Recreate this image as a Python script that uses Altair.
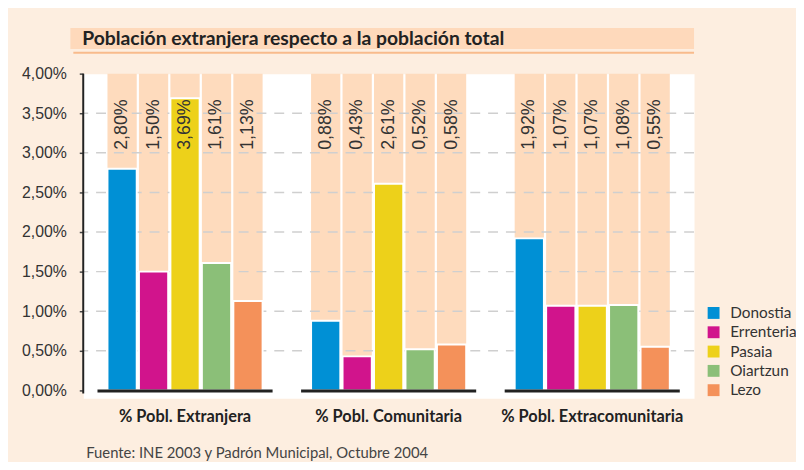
import altair as alt
import pandas as pd

groups = ["% Pobl. Extranjera", "% Pobl. Comunitaria", "% Pobl. Extracomunitaria"]
cities = ["Donostia", "Errenteria", "Pasaia", "Oiartzun", "Lezo"]
extranjera = [2.80, 1.50, 3.69, 1.61, 1.13]
comunitaria = [0.88, 0.43, 2.61, 0.52, 0.58]
extracomunitaria = [1.92, 1.07, 1.07, 1.08, 0.55]
colors = ["#0090d5", "#d1148c", "#edd11a", "#8bbf78", "#f4915a"]
y_ticks = [0.0, 0.5, 1.0, 1.5, 2.0, 2.5, 3.0, 3.5, 4.0]
grid_values = [0.5, 1.0, 1.5, 2.0, 2.5, 3.0, 3.5]
y_max = 4.0
title_text = "Población extranjera respecto a la población total"
source_text = "Fuente: INE 2003 y Padrón Municipal, Octubre 2004"

rows = []
for g, vals in zip(groups, [extranjera, comunitaria, extracomunitaria]):
    for c, v in zip(cities, vals):
        rows.append({
            "grupo": g, "ciudad": c, "valor": v,
            "etiqueta": f"{v:.2f}".replace(".", ",") + "%",
            "tope": y_max,
        })
df = pd.DataFrame(rows)

y_scale = alt.Scale(domain=[-0.1, y_max], nice=False, zero=False)
y_axis = alt.Axis(
    title=None, values=y_ticks, domain=False, grid=False,
    labelExpr="replace(format(datum.value, '.2f'), '.', ',') + '%'",
    tickSize=4, tickColor="#444", tickWidth=1.5,
    labelFont="Liberation Sans", labelFontSize=16, labelColor="#333",
    labelPadding=13,
)
x_enc = alt.X(
    "grupo:N", sort=groups, title=None,
    scale=alt.Scale(paddingInner=0, paddingOuter=0),
    axis=alt.Axis(labelAngle=0, ticks=False, domain=False, labelFont="Lato",
                  labelFontWeight="bold", labelFontSize=16.5, labelColor="#222",
                  labelPadding=10, labelLimit=0),
)
xo_enc = alt.XOffset("ciudad:N", sort=cities,
                     scale=alt.Scale(paddingInner=0.07, paddingOuter=0.77))

base = alt.Chart(df)

bg = base.mark_bar(color="#fedbbd").encode(
    x=x_enc, xOffset=xo_enc,
    y=alt.Y("tope:Q", scale=y_scale, axis=y_axis),
    y2=alt.datum(0),
)

grid = alt.Chart(pd.DataFrame({"g": grid_values})).mark_rule(
    color="#cfcfcf", strokeDash=[10, 8], strokeWidth=1.5
).encode(y=alt.Y("g:Q", scale=y_scale, axis=y_axis))

bars = base.mark_bar(stroke="white", strokeWidth=2).encode(
    x=x_enc, xOffset=xo_enc,
    y=alt.Y("valor:Q", scale=y_scale, axis=y_axis),
    y2=alt.datum(0),
    color=alt.Color(
        "ciudad:N", sort=cities,
        scale=alt.Scale(domain=cities, range=colors),
        legend=alt.Legend(
            title=None, orient="none", legendX=629, legendY=234,
            symbolType="square", symbolSize=144, symbolStrokeWidth=0,
            labelFont="Lato", labelFontSize=15.5, labelColor="#333",
            labelOffset=9, rowPadding=2.5, padding=0,
        ),
    ),
)

labels = base.mark_text(
    angle=270, align="right", baseline="middle",
    font="Liberation Sans", fontSize=18, color="#333",
).encode(x=x_enc, xOffset=xo_enc, y=alt.value(26), text="etiqueta:N")

baselines = alt.Chart(pd.DataFrame({"grupo": groups})).mark_bar(
    color="#222", width=alt.RelativeBandSize(0.86)
).encode(x=x_enc, y=alt.datum(0.0125), y2=alt.datum(-0.025))

one = pd.DataFrame({"a": [0]})
yaxis_line = alt.Chart(one).mark_rule(color="#222", strokeWidth=2).encode(
    x=alt.value(0), y=alt.datum(y_max), y2=alt.datum(-0.04)
)

title_band = alt.Chart(one).mark_rect(color="#fed9bb").encode(
    x=alt.value(-13), x2=alt.value(617), y=alt.value(-46), y2=alt.value(-25)
)
title_line = alt.Chart(one).mark_rect(color="#f8bb8c").encode(
    x=alt.value(-10), x2=alt.value(617), y=alt.value(-22), y2=alt.value(-20)
)
title = alt.Chart(one).mark_text(
    align="left", baseline="middle", font="Lato", fontWeight="bold",
    fontSize=19.5, color="#222",
).encode(x=alt.value(-1), y=alt.value(-35), text=alt.value(title_text))

source = alt.Chart(one).mark_text(
    align="left", baseline="middle", font="Lato", fontSize=15, color="#444",
).encode(x=alt.value(3), y=alt.value(383), text=alt.value(source_text))

chart = alt.layer(
    title_band, title_line, title, bg, grid, bars, labels, baselines,
    yaxis_line, source,
).properties(
    width=617, height=328,
    background="#fdeee0",
    padding={"left": 76, "top": 64, "right": 103, "bottom": 62},
    autosize=alt.AutoSizeParams(type="none"),
).configure_view(fill="white", stroke="transparent")

chart.save("out.html", embed_options={"renderer": "svg", "actions": False})
